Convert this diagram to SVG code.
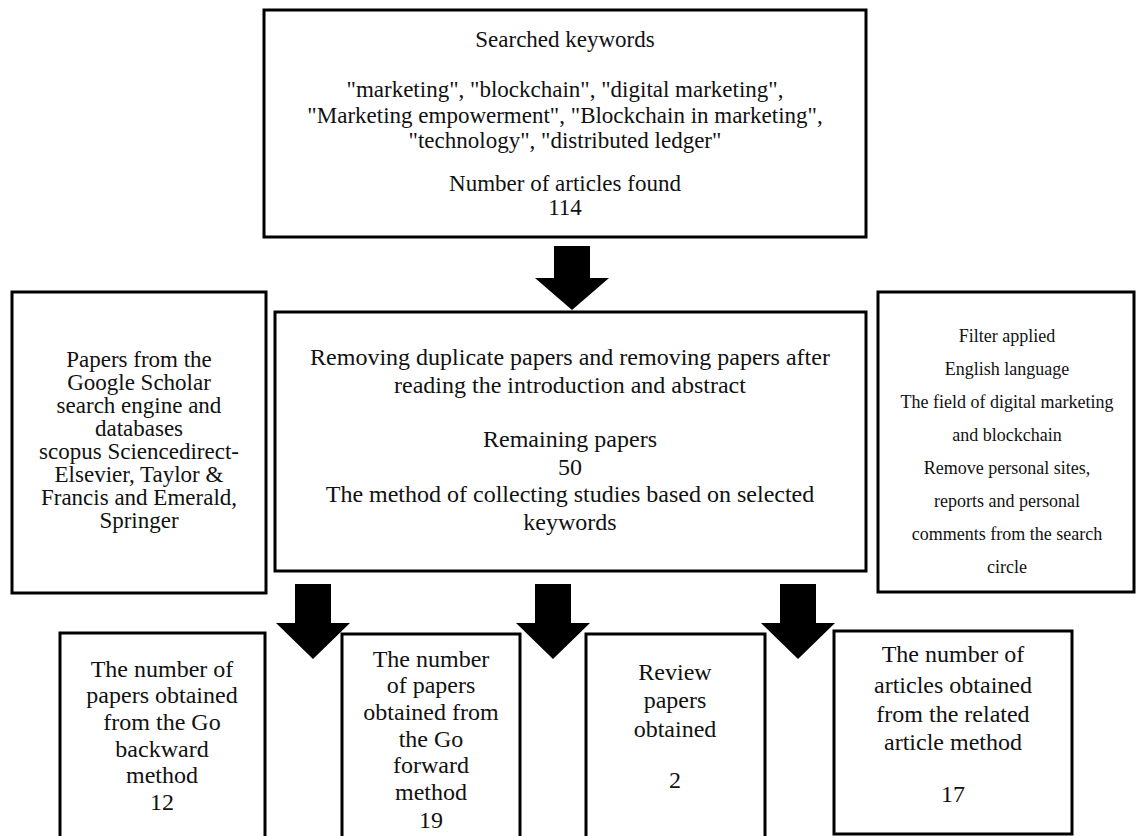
<svg xmlns="http://www.w3.org/2000/svg" width="1137" height="836" viewBox="0 0 1137 836">
<style>
.box{fill:#fff;stroke:#000;stroke-width:3}
.t{font-family:"Liberation Serif","Times New Roman",serif;font-size:23px;fill:#111;text-anchor:middle}
.m{font-size:24px}
.s{font-size:18px}
.arrow{fill:#000;stroke:none}
</style>
<rect x="0" y="0" width="1137" height="836" fill="#fff"/>
<g id="node-keywords">
<rect class="box" x="264" y="10" width="602" height="227"/>
<text class="t" x="565" y="47">Searched keywords</text>
<text class="t" x="565" y="97">"marketing", "blockchain", "digital marketing",</text>
<text class="t" x="565" y="123">"Marketing empowerment", "Blockchain in marketing",</text>
<text class="t" x="565" y="148">"technology", "distributed ledger"</text>
<text class="t" x="565" y="191">Number of articles found</text>
<text class="t" x="565" y="215">114</text>
</g>
<g id="node-sources">
<rect class="box" x="12" y="292" width="254" height="301"/>
<text class="t" x="139" y="367">Papers from the</text>
<text class="t" x="139" y="390">Google Scholar</text>
<text class="t" x="139" y="413">search engine and</text>
<text class="t" x="139" y="436">databases</text>
<text class="t" x="139" y="459">scopus Sciencedirect-</text>
<text class="t" x="139" y="482">Elsevier, Taylor &amp;</text>
<text class="t" x="139" y="505">Francis and Emerald,</text>
<text class="t" x="139" y="528">Springer</text>
</g>
<g id="node-removing">
<rect class="box" x="275" y="312" width="591" height="259"/>
<text class="t m" x="570" y="365">Removing duplicate papers and removing papers after</text>
<text class="t m" x="570" y="393">reading the introduction and abstract</text>
<text class="t m" x="570" y="447">Remaining papers</text>
<text class="t m" x="570" y="475">50</text>
<text class="t m" x="570" y="502">The method of collecting studies based on selected</text>
<text class="t m" x="570" y="530">keywords</text>
</g>
<g id="node-filter">
<rect class="box" x="878" y="292" width="256" height="300"/>
<text class="t s" x="1007" y="342">Filter applied</text>
<text class="t s" x="1007" y="375">English language</text>
<text class="t s" x="1007" y="408">The field of digital  marketing</text>
<text class="t s" x="1007" y="441">and blockchain</text>
<text class="t s" x="1007" y="474">Remove personal sites,</text>
<text class="t s" x="1007" y="507">reports and personal</text>
<text class="t s" x="1007" y="540">comments from the search</text>
<text class="t s" x="1007" y="573">circle</text>
</g>
<g id="node-backward">
<rect class="box" x="60" y="633" width="205" height="210"/>
<text class="t m" x="162" y="677">The number of</text>
<text class="t m" x="162" y="703">papers obtained</text>
<text class="t m" x="162" y="730">from the Go</text>
<text class="t m" x="162" y="757">backward</text>
<text class="t m" x="162" y="783">method</text>
<text class="t m" x="162" y="810">12</text>
</g>
<g id="node-forward">
<rect class="box" x="342" y="634" width="178" height="210"/>
<text class="t m" x="431" y="667">The number</text>
<text class="t m" x="431" y="693">of papers</text>
<text class="t m" x="431" y="720">obtained from</text>
<text class="t m" x="431" y="747">the Go</text>
<text class="t m" x="431" y="773">forward</text>
<text class="t m" x="431" y="800">method</text>
<text class="t m" x="431" y="828">19</text>
</g>
<g id="node-review">
<rect class="box" x="586" y="634" width="179" height="210"/>
<text class="t m" x="675" y="680">Review</text>
<text class="t m" x="675" y="708">papers</text>
<text class="t m" x="675" y="737">obtained</text>
<text class="t m" x="675" y="788">2</text>
</g>
<g id="node-related">
<rect class="box" x="834" y="631" width="238" height="203"/>
<text class="t m" x="953" y="662">The number of</text>
<text class="t m" x="953" y="693">articles obtained</text>
<text class="t m" x="953" y="722">from the related</text>
<text class="t m" x="953" y="750">article method</text>
<text class="t m" x="953" y="802">17</text>
</g>
<g id="connectors">
<polygon class="arrow" points="554,246 590,246 590,278 609,278 572,310 535,278 554,278"/>
<polygon class="arrow" points="295,584 331,584 331,623 350,623 313,659 276,623 295,623"/>
<polygon class="arrow" points="535,584 571,584 571,623 590,623 553,659 516,623 535,623"/>
<polygon class="arrow" points="780,584 816,584 816,623 835,623 798,659 761,623 780,623"/>
</g>
</svg>
